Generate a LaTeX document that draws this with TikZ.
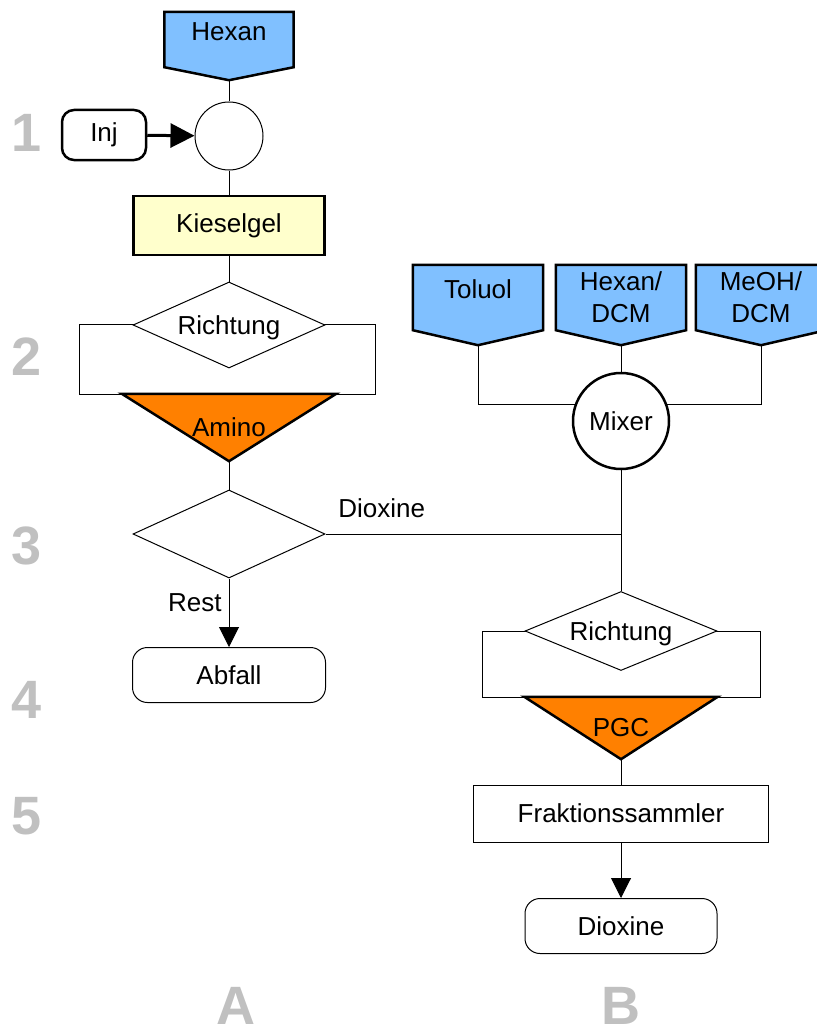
\documentclass[tikz,border=0pt]{standalone}
\usepackage{fontspec}
\setmainfont{Liberation Sans}
\usetikzlibrary{shapes.geometric, arrows.meta, positioning, backgrounds, calc}
\definecolor{skyblue}{RGB}{128, 192, 255}
\definecolor{pumporange}{RGB}{255, 128,   0}
\definecolor{paleyellow}{RGB}{255, 255, 204}
\definecolor{stepgray}{RGB}{192, 192, 192}

\begin{document}
\begin{tikzpicture}[
  x=1pt, y=-1pt,
  every node/.style={font=\fontsize{26}{32}\selectfont, inner sep=0pt},
  thinline/.style={draw, line width=1pt},
  thickline/.style={draw, line width=2.5pt},
  source/.style={minimum width=130pt, minimum height=65pt, align=center},
  oneline/.style={text height=19pt, text depth=17pt},
  srcshape/.style={fill=skyblue, draw, line width=2.5pt, line join=miter},
  valve/.style={circle, thinline, minimum size=68pt},
  mixer/.style={circle, thickline, fill=white, minimum size=96pt},
  column/.style={rectangle, thickline, fill=paleyellow, minimum width=191pt, minimum height=59pt},
  frame/.style={rectangle, thinline},
  decision/.style={diamond, aspect=2.4, thinline, fill=white, minimum width=192pt,
                   text height=19pt, text depth=0pt},
  trap/.style={minimum height=64pt},
  trapshape/.style={fill=pumporange, draw, line width=2.5pt, line join=miter},
  endbox/.style={rectangle, rounded corners=15pt, thinline, minimum width=192pt, minimum height=55pt},
  conn/.style={line width=1pt},
  arrow/.style={-{Triangle[length=20pt, width=20pt]}, line width=1pt},
  flowlabel/.style={},
  stepnum/.style={font=\fontsize{54}{60}\selectfont\bfseries, text=stepgray}
]
  \useasboundingbox (0,0) rectangle (816,1030);

  % step numbers and columns
  \foreach \n/\y in {1/133, 2/357, 3/546, 4/700, 5/816}
    \node[stepnum] (step\n) at (27,\y) {\n};
  \node[stepnum] (colA) at (236,1006) {A};
  \node[stepnum] (colB) at (621,1006) {B};

  % column A
  \node[source, oneline, minimum width=129pt, minimum height=55pt] (hexan) at (229,39.5) {Hexan};
  \node[valve] (valve) at (229,136) {};
  \node[rectangle, rounded corners=12pt, thickline, minimum width=84pt, minimum height=50pt] (inj) at (104,135) {Inj};
  \node[column] (kiesel) at (229,225.5) {Kieselgel};
  \node[frame, minimum width=296pt, minimum height=70pt] (frame1) at (227,359) {};
  \node[decision, minimum height=86pt] (dir1) at (229,325) {Richtung};
  \node[trap, minimum width=214pt, minimum height=67pt] (amino) at (229,427.5) {Amino};
  \node[decision, minimum height=88pt] (split) at (229,534) {};
  \node[endbox, minimum width=193pt] (abfall) at (229,675) {Abfall};

  % column B
  \node[source, oneline] (toluol) at (478,297.5) {Toluol};
  \node[source] (hexdcm) at (621,297.5) {Hexan/\\DCM};
  \node[source] (meoh) at (761,297.5) {MeOH/\\DCM};
  \node[mixer] (mixer) at (621,421) {Mixer};
  \coordinate (junction) at (mixer.south |- split.east);
  \node[frame, minimum width=278pt, minimum height=66pt] (frame2) at (621,664) {};
  \node[decision, minimum height=79pt] (dir2) at (621,631) {Richtung};
  \node[trap, minimum width=193pt, minimum height=62pt] (pgc) at (621,728) {PGC};
  \node[rectangle, thinline, minimum width=295pt, minimum height=57pt] (frak) at (621,813.5) {Fraktionssammler};
  \node[endbox] (diox) at (621,926) {Dioxine};

  \begin{scope}[on background layer]
    \foreach \s/\d in {hexan/13pt, toluol/15pt, hexdcm/15pt, meoh/15pt} {
      \coordinate (\s-tip) at ([yshift=-\d]\s.south);
      \draw[srcshape] (\s.north west) -- (\s.north east) -- (\s.south east)
        -- (\s-tip) -- (\s.south west) -- cycle;
    }
    \foreach \t in {amino, pgc}
      \draw[trapshape] (\t.north west) -- (\t.north east) -- (\t.south) -- cycle;
  \end{scope}

  \draw[conn] (hexan-tip) -- (valve);
  \draw[-{Triangle[length=24pt, width=24pt]}, line width=3pt] (inj) -- (valve);
  \draw[conn] (valve) -- (kiesel);
  \draw[conn] (kiesel) -- (dir1);
  \draw[conn] (amino.south) -- (split);
  \draw[arrow] (split) -- node[flowlabel, left=7pt, pos=0.36] {Rest} (abfall);
  \draw[conn] (split.east) -- node[flowlabel, above=16pt, pos=0.19] {Dioxine} (junction);

  \draw[conn] (toluol-tip) |- (mixer.160);
  \draw[conn] (hexdcm-tip) -- (mixer);
  \draw[conn] (meoh-tip) |- (mixer.20);
  \draw[conn] (mixer) -- (dir2);
  \draw[conn] (pgc.south) -- (frak);
  \draw[arrow] (frak) -- (diox);
\end{tikzpicture}
\end{document}
